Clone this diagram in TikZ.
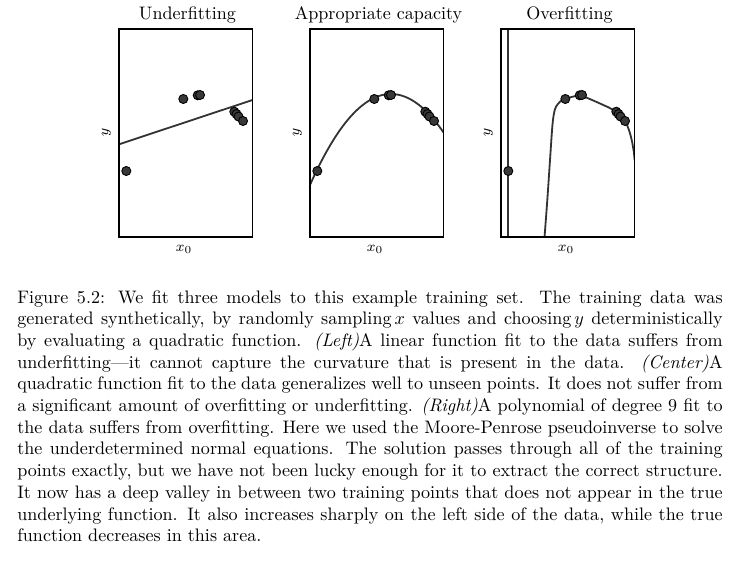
\documentclass[tikz,border=0pt]{standalone}
\usepackage{amsmath}
\definecolor{curvegray}{HTML}{333333}
\definecolor{dotgray}{HTML}{383838}
\newcommand{\capline}[1]{\hbox to 390pt{#1}}
\begin{document}
\begin{tikzpicture}[x=0.553pt,y=-0.553pt,
  panel/.style={draw=black, line width=0.85pt},
  fitline/.style={draw=curvegray, line width=1pt, line cap=round},
  datapt/.style={circle, draw=black, fill=dotgray, line width=0.5pt, minimum size=5pt, inner sep=0pt},
  ttl/.style={anchor=base, inner sep=0pt, font=\normalsize},
  xlab/.style={anchor=base, inner sep=0pt, font=\footnotesize},
  ylab/.style={rotate=90, inner sep=0pt, font=\footnotesize}]
\useasboundingbox (0,0) rectangle (737,564);

% ---------- panel 1 : underfitting ----------
\begin{scope}
  \clip (119,29) rectangle (252.5,237);
  \draw[fitline] (119,144.3) -- (252.5,100);
\end{scope}
% ---------- panel 2 : appropriate capacity ----------
\begin{scope}
  \clip (310,29) rectangle (443.5,237);
  \draw[fitline] plot[domain=0:133.5, samples=70] ({310+\x}, {0.0139*(\x-80.9)*(\x-80.9)+94});
\end{scope}
% ---------- panel 3 : overfitting ----------
\begin{scope}
  \clip (501,29) rectangle (634.5,237);
  \draw[fitline] (508,29) -- (508,237);
  \draw[fitline] plot[smooth, tension=0.55] coordinates {
    (544.3,240) (547.3,200) (550,160) (552.3,126.7) (554,113.3) (556,106.7)
    (560,101.7) (564.3,99) (580,95.3) (586.7,97.7) (603.3,105) (613.3,110)
    (623.3,118.3) (628.3,128.3) (631.7,140) (634,153.3) (634.5,160)};
\end{scope}

\foreach \L/\nm/\ttext in {119/A/Underfitting, 310/B/Appropriate capacity, 501/C/Overfitting}{
  \draw[panel] (\L,29) rectangle ++(133.5,208);
  \node[ttl] (\nm-title) at (\L+68.5,20) {\ttext};
  \node[xlab] (\nm-x) at (\L+65,251.5) {$x_0$};
  \node[ylab] (\nm-y) at (\L-12.5,132) {$y$};
  \foreach \u/\v [count=\i] in {7.3/171, 64.3/99, 78.7/95.3, 81/95, 115.3/111.7, 117.5/114, 119.5/116.5, 124/121}
    \node[datapt] (\nm-p\i) at (\L+\u,\v) {};
}

\node[anchor=base west, inner sep=0pt] (cap) at (17,303) {\parbox[t]{390pt}{%
\capline{Figure 5.2: We fit three models to this example training set. The training data was}
\capline{generated synthetically, by randomly sampling\,$x$ values and choosing\,$y$ deterministically}
\capline{by evaluating a quadratic function. \textit{(Left)}A linear function fit to the data suffers from}
\capline{underfitting---it cannot capture the curvature that is present in the data. \textit{(Center)}A}
\capline{quadratic function fit to the data generalizes well to unseen points. It does not suffer from}
\capline{a significant amount of overfitting or underfitting. \textit{(Right)}A polynomial of degree 9 fit to}
\capline{the data suffers from overfitting. Here we used the Moore-Penrose pseudoinverse to solve}
\capline{the underdetermined normal equations. The solution passes through all of the training}
\capline{points exactly, but we have not been lucky enough for it to extract the correct structure.}
\capline{It now has a deep valley in between two training points that does not appear in the true}
\capline{underlying function. It also increases sharply on the left side of the data, while the true}
\hbox{function decreases in this area.}}};
\end{tikzpicture}
\end{document}
